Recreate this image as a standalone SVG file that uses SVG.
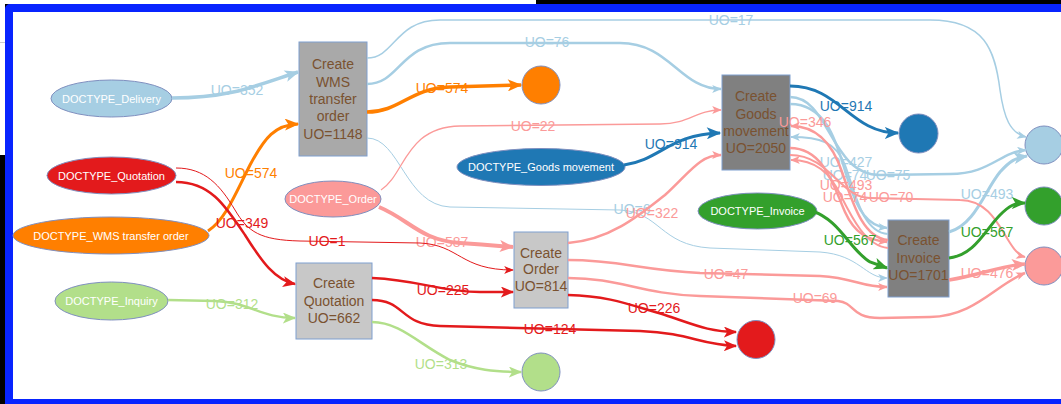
<svg xmlns="http://www.w3.org/2000/svg" width="1061" height="404" viewBox="0 0 1061 404">
  <style>
    .doc text { font-family: "Liberation Sans", Arial, sans-serif; font-size: 11px; fill: #ffffff; text-anchor: middle; }
    .doc ellipse { stroke: #7f8fbf; stroke-width: 1; }
    .act rect { stroke: #7f9fcf; stroke-width: 1; }
    .act text { font-family: "Liberation Sans", Arial, sans-serif; font-size: 14px; fill: #7a5230; text-anchor: middle; }
    .end circle { stroke: #7f8fbf; stroke-width: 1; }
    #connectors path { fill: none; }
    #connectors text { font-family: "Liberation Sans", Arial, sans-serif; font-size: 14px; text-anchor: middle; }
    .lb path { stroke: #a6cee3; } .lb text { fill: #a6cee3; }
    .db path { stroke: #1f78b4; } .db text { fill: #1f78b4; }
    .pk path { stroke: #fb9a99; } .pk text { fill: #fb9a99; }
    .rd path { stroke: #e31a1c; } .rd text { fill: #e31a1c; }
    .lg path { stroke: #b2df8a; } .lg text { fill: #b2df8a; }
    .gr path { stroke: #33a02c; } .gr text { fill: #33a02c; }
    .or path { stroke: #ff7f00; } .or text { fill: #ff7f00; }
  </style>
  <defs>
    <marker id="a-lb-s" viewBox="0 0 12 10" refX="11" refY="5" markerUnits="userSpaceOnUse" markerWidth="10" markerHeight="8" orient="auto"><path d="M0,0 L12,5 L0,10 L3,5 z" fill="#a6cee3"/></marker>
    <marker id="a-lb-b" viewBox="0 0 12 10" refX="11" refY="5" markerUnits="userSpaceOnUse" markerWidth="15" markerHeight="12" orient="auto"><path d="M0,0 L12,5 L0,10 L3,5 z" fill="#a6cee3"/></marker>
    <marker id="a-db-b" viewBox="0 0 12 10" refX="11" refY="5" markerUnits="userSpaceOnUse" markerWidth="15" markerHeight="12" orient="auto"><path d="M0,0 L12,5 L0,10 L3,5 z" fill="#1f78b4"/></marker>
    <marker id="a-pk-s" viewBox="0 0 12 10" refX="11" refY="5" markerUnits="userSpaceOnUse" markerWidth="10" markerHeight="8" orient="auto"><path d="M0,0 L12,5 L0,10 L3,5 z" fill="#fb9a99"/></marker>
    <marker id="a-pk-b" viewBox="0 0 12 10" refX="11" refY="5" markerUnits="userSpaceOnUse" markerWidth="15" markerHeight="12" orient="auto"><path d="M0,0 L12,5 L0,10 L3,5 z" fill="#fb9a99"/></marker>
    <marker id="a-rd-s" viewBox="0 0 12 10" refX="11" refY="5" markerUnits="userSpaceOnUse" markerWidth="10" markerHeight="8" orient="auto"><path d="M0,0 L12,5 L0,10 L3,5 z" fill="#e31a1c"/></marker>
    <marker id="a-rd-b" viewBox="0 0 12 10" refX="11" refY="5" markerUnits="userSpaceOnUse" markerWidth="14" markerHeight="11" orient="auto"><path d="M0,0 L12,5 L0,10 L3,5 z" fill="#e31a1c"/></marker>
    <marker id="a-lg-b" viewBox="0 0 12 10" refX="11" refY="5" markerUnits="userSpaceOnUse" markerWidth="14" markerHeight="11" orient="auto"><path d="M0,0 L12,5 L0,10 L3,5 z" fill="#b2df8a"/></marker>
    <marker id="a-gr-b" viewBox="0 0 12 10" refX="11" refY="5" markerUnits="userSpaceOnUse" markerWidth="15" markerHeight="12" orient="auto"><path d="M0,0 L12,5 L0,10 L3,5 z" fill="#33a02c"/></marker>
    <marker id="a-or-b" viewBox="0 0 12 10" refX="11" refY="5" markerUnits="userSpaceOnUse" markerWidth="15" markerHeight="12" orient="auto"><path d="M0,0 L12,5 L0,10 L3,5 z" fill="#ff7f00"/></marker>
  </defs>

  <!-- window backdrop and blue frame -->
  <rect x="0" y="0" width="1061" height="404" fill="#000000"/>
  <path d="M0,0 H536 V4 H5 V155 H0 Z" fill="#ffffff"/>
  <line x1="0" y1="42.5" x2="5" y2="42.5" stroke="#cccccc" stroke-width="1"/>
  <rect x="5" y="4" width="1080" height="420" rx="5" fill="#0824ff"/>
  <rect x="13" y="12" width="1060" height="387" fill="#ffffff"/>

  <!-- document type sources -->
  <g id="doc-delivery" class="doc"><ellipse cx="111.5" cy="98.5" rx="60.5" ry="18.5" fill="#a6cee3"/><text x="111.5" y="102.5">DOCTYPE_Delivery</text></g>
  <g id="doc-quotation" class="doc"><ellipse cx="111.5" cy="175.5" rx="64.5" ry="18.5" fill="#e31a1c"/><text x="111.5" y="179.5">DOCTYPE_Quotation</text></g>
  <g id="doc-wms" class="doc"><ellipse cx="111" cy="235.5" rx="98" ry="18.5" fill="#ff7f00"/><text x="111" y="239.5">DOCTYPE_WMS transfer order</text></g>
  <g id="doc-inquiry" class="doc"><ellipse cx="111.5" cy="301" rx="56.5" ry="19" fill="#b2df8a"/><text x="111.5" y="305">DOCTYPE_Inquiry</text></g>
  <g id="doc-order" class="doc"><ellipse cx="333" cy="199" rx="48" ry="18" fill="#fb9a99"/><text x="333" y="203">DOCTYPE_Order</text></g>
  <g id="doc-goods" class="doc"><ellipse cx="541" cy="167" rx="84" ry="18.5" fill="#1f78b4"/><text x="541" y="171">DOCTYPE_Goods movement</text></g>
  <g id="doc-invoice" class="doc"><ellipse cx="757.5" cy="211" rx="59.5" ry="18" fill="#33a02c"/><text x="757.5" y="215">DOCTYPE_Invoice</text></g>

  <!-- activities -->
  <g id="act-wms" class="act"><rect x="299" y="42" width="68" height="114" fill="#a9a9a9"/>
    <text x="333" y="69">Create</text><text x="333" y="86.5">WMS</text><text x="333" y="104">transfer</text><text x="333" y="121">order</text><text x="333" y="138.5">UO=1148</text></g>
  <g id="act-goods" class="act"><rect x="722" y="75" width="68" height="95" fill="#808080"/>
    <text x="756" y="101">Create</text><text x="756" y="118.5">Goods</text><text x="756" y="136">movement</text><text x="756" y="153">UO=2050</text></g>
  <g id="act-order" class="act"><rect x="514" y="232" width="54" height="76" fill="#c8c8c8"/>
    <text x="541" y="257.5">Create</text><text x="541" y="274">Order</text><text x="541" y="291">UO=814</text></g>
  <g id="act-quotation" class="act"><rect x="296" y="263" width="76" height="76" fill="#c8c8c8"/>
    <text x="334" y="288">Create</text><text x="334" y="305.5">Quotation</text><text x="334" y="323">UO=662</text></g>
  <g id="act-invoice" class="act"><rect x="888" y="220" width="61" height="77" fill="#808080"/>
    <text x="918.5" y="245">Create</text><text x="918.5" y="262.5">Invoice</text><text x="918.5" y="280">UO=1701</text></g>

  <!-- end points -->
  <g id="end-wms" class="end"><circle cx="541" cy="85" r="19" fill="#ff7f00"/></g>
  <g id="end-goods" class="end"><circle cx="918.5" cy="133.5" r="19.5" fill="#1f78b4"/></g>
  <g id="end-delivery" class="end"><circle cx="1044" cy="145" r="19" fill="#a6cee3"/></g>
  <g id="end-invoice" class="end"><circle cx="1044" cy="206" r="19" fill="#33a02c"/></g>
  <g id="end-order" class="end"><circle cx="1044" cy="266" r="19" fill="#fb9a99"/></g>
  <g id="end-quotation" class="end"><circle cx="756" cy="339.5" r="19" fill="#e31a1c"/></g>
  <g id="end-inquiry" class="end"><circle cx="541" cy="372" r="19" fill="#b2df8a"/></g>

  <!-- flows -->
  <g id="connectors">
    <!-- Delivery objects -->
    <g class="lb"><path d="M172,98 C230,98 255,86 298,72" stroke-width="3.5" marker-end="url(#a-lb-b)"/><text x="237" y="95">UO=352</text></g>
    <g class="lb"><path d="M367,58 C395,58 395,20 440,20 L930,20 C985,20 995,50 1000,90 C1004,118 1010,133 1026,137" stroke-width="1.5" marker-end="url(#a-lb-s)"/><text x="731" y="25">UO=17</text></g>
    <g class="lb"><path d="M367,84 C400,84 400,43 450,43 L620,43 C670,43 680,89 721,89" stroke-width="2.5" marker-end="url(#a-lb-s)"/><text x="547" y="47">UO=76</text></g>
    <g class="lb"><path d="M367,138 C400,138 405,205 450,207 L620,210 C660,212 660,245 710,248 L820,252 C860,255 865,278 887,278" stroke-width="1" marker-end="url(#a-lb-s)"/><text x="632" y="214">UO=6</text></g>
    <g class="lb"><path d="M790,97 C830,97 830,175 880,175 L950,174 C990,174 1000,152 1026,150" stroke-width="2.5" marker-end="url(#a-lb-s)"/><text x="888" y="180">UO=75</text></g>
    <g class="lb"><path d="M790,104 C830,104 838,150 848,180 C858,212 868,226 887,228" stroke-width="2.5" marker-end="url(#a-lb-s)"/><text x="846" y="167">UO=427</text></g>
    <g class="lb"><path d="M888,234 C862,232 855,192 845,165 C836,142 820,137 791,137" stroke-width="2" marker-end="url(#a-lb-s)"/><text x="845" y="180">UO=74</text></g>
    <g class="lb"><path d="M949,232 C975,225 985,190 1000,172 C1010,161 1015,158 1027,156" stroke-width="3" marker-end="url(#a-lb-b)"/><text x="987" y="199">UO=493</text></g>

    <!-- Order objects -->
    <g class="pk"><path d="M379,207 C410,220 420,240 460,243 C490,245 500,246 513,247" stroke-width="4" marker-end="url(#a-pk-b)"/><text x="442" y="247">UO=587</text></g>
    <g class="pk"><path d="M381,190 C405,175 405,127 460,126 L660,124 C690,124 695,110 721,110" stroke-width="1.3" marker-end="url(#a-pk-s)"/><text x="533" y="131">UO=22</text></g>
    <g class="pk"><path d="M568,243 C610,240 640,215 665,195 C690,172 700,155 721,155" stroke-width="2.5" marker-end="url(#a-pk-s)"/><text x="652" y="218">UO=322</text></g>
    <g class="pk"><path d="M568,260 C620,260 640,270 700,273 L820,276 C855,278 860,287 887,287" stroke-width="2.5" marker-end="url(#a-pk-s)"/><text x="726" y="279">UO=47</text></g>
    <g class="pk"><path d="M568,278 C620,278 640,294 700,296 L838,301 C856,303 850,318 880,318 L930,317 C975,316 995,285 1025,273" stroke-width="2.5" marker-end="url(#a-pk-s)"/><text x="815" y="303">UO=69</text></g>
    <g class="pk"><path d="M888,240 C862,238 852,200 842,172 C832,142 815,126 791,126" stroke-width="2.5" marker-end="url(#a-pk-s)"/><text x="805" y="127">UO=346</text></g>
    <g class="pk"><path d="M790,148 C825,148 835,190 845,212 C855,234 868,240 887,242" stroke-width="2.5" marker-end="url(#a-pk-s)"/><text x="846" y="190">UO=493</text></g>
    <g class="pk"><path d="M888,248 C866,246 852,218 841,196 C830,172 815,160 791,160" stroke-width="2" marker-end="url(#a-pk-s)"/><text x="845" y="202">UO=74</text></g>
    <g class="pk"><path d="M790,155 C830,155 840,198 870,198 L960,200 C1000,200 1005,252 1025,257" stroke-width="2" marker-end="url(#a-pk-s)"/><text x="891" y="202">UO=70</text></g>
    <g class="pk"><path d="M949,280 C980,275 1000,266 1025,264" stroke-width="3.5" marker-end="url(#a-pk-b)"/><text x="987" y="278">UO=476</text></g>

    <!-- Goods movement objects -->
    <g class="db"><path d="M624,165 C660,160 670,134 720,133" stroke-width="3" marker-end="url(#a-db-b)"/><text x="671" y="149">UO=914</text></g>
    <g class="db"><path d="M790,86 C840,86 850,133 898,133" stroke-width="3" marker-end="url(#a-db-b)"/><text x="846" y="111">UO=914</text></g>

    <!-- Invoice objects -->
    <g class="gr"><path d="M812,211 C840,220 850,250 870,262 L887,268" stroke-width="3" marker-end="url(#a-gr-b)"/><text x="850" y="245">UO=567</text></g>
    <g class="gr"><path d="M949,258 C975,255 985,230 1000,215 C1010,205 1015,203 1025,203" stroke-width="3" marker-end="url(#a-gr-b)"/><text x="987" y="237">UO=567</text></g>

    <!-- WMS transfer order objects -->
    <g class="or"><path d="M208,231 C225,220 235,195 250,165 C265,137 275,125 298,124" stroke-width="3" marker-end="url(#a-or-b)"/><text x="251" y="178">UO=574</text></g>
    <g class="or"><path d="M367,112 C400,112 410,88 450,87 L521,85" stroke-width="3.5" marker-end="url(#a-or-b)"/><text x="442" y="93">UO=574</text></g>

    <!-- Quotation objects -->
    <g class="rd"><path d="M176,182 C210,182 225,205 245,235 C262,262 275,280 295,284" stroke-width="2.5" marker-end="url(#a-rd-b)"/><text x="242" y="228">UO=349</text></g>
    <g class="rd"><path d="M176,168 C205,168 220,185 235,210 C248,232 260,240 300,241 L420,243 C460,245 460,270 513,270" stroke-width="1" marker-end="url(#a-rd-s)"/><text x="327" y="246">UO=1</text></g>
    <g class="rd"><path d="M372,278 C420,280 440,292 480,292 L513,292" stroke-width="2.5" marker-end="url(#a-rd-b)"/><text x="443" y="295">UO=225</text></g>
    <g class="rd"><path d="M372,300 C405,300 400,325 440,326 L640,331 C690,333 700,345 736,346" stroke-width="2.5" marker-end="url(#a-rd-b)"/><text x="550" y="334">UO=124</text></g>
    <g class="rd"><path d="M568,295 C610,296 630,305 665,315 C695,325 710,332 736,332" stroke-width="2.5" marker-end="url(#a-rd-b)"/><text x="654" y="313">UO=226</text></g>

    <!-- Inquiry objects -->
    <g class="lg"><path d="M168,300 L215,301 C250,302 260,318 295,318" stroke-width="2.5" marker-end="url(#a-lg-b)"/><text x="232" y="309">UO=312</text></g>
    <g class="lg"><path d="M372,322 C400,322 420,345 450,360 C475,370 495,372 521,372" stroke-width="2.5" marker-end="url(#a-lg-b)"/><text x="441" y="369">UO=313</text></g>
  </g>
</svg>
